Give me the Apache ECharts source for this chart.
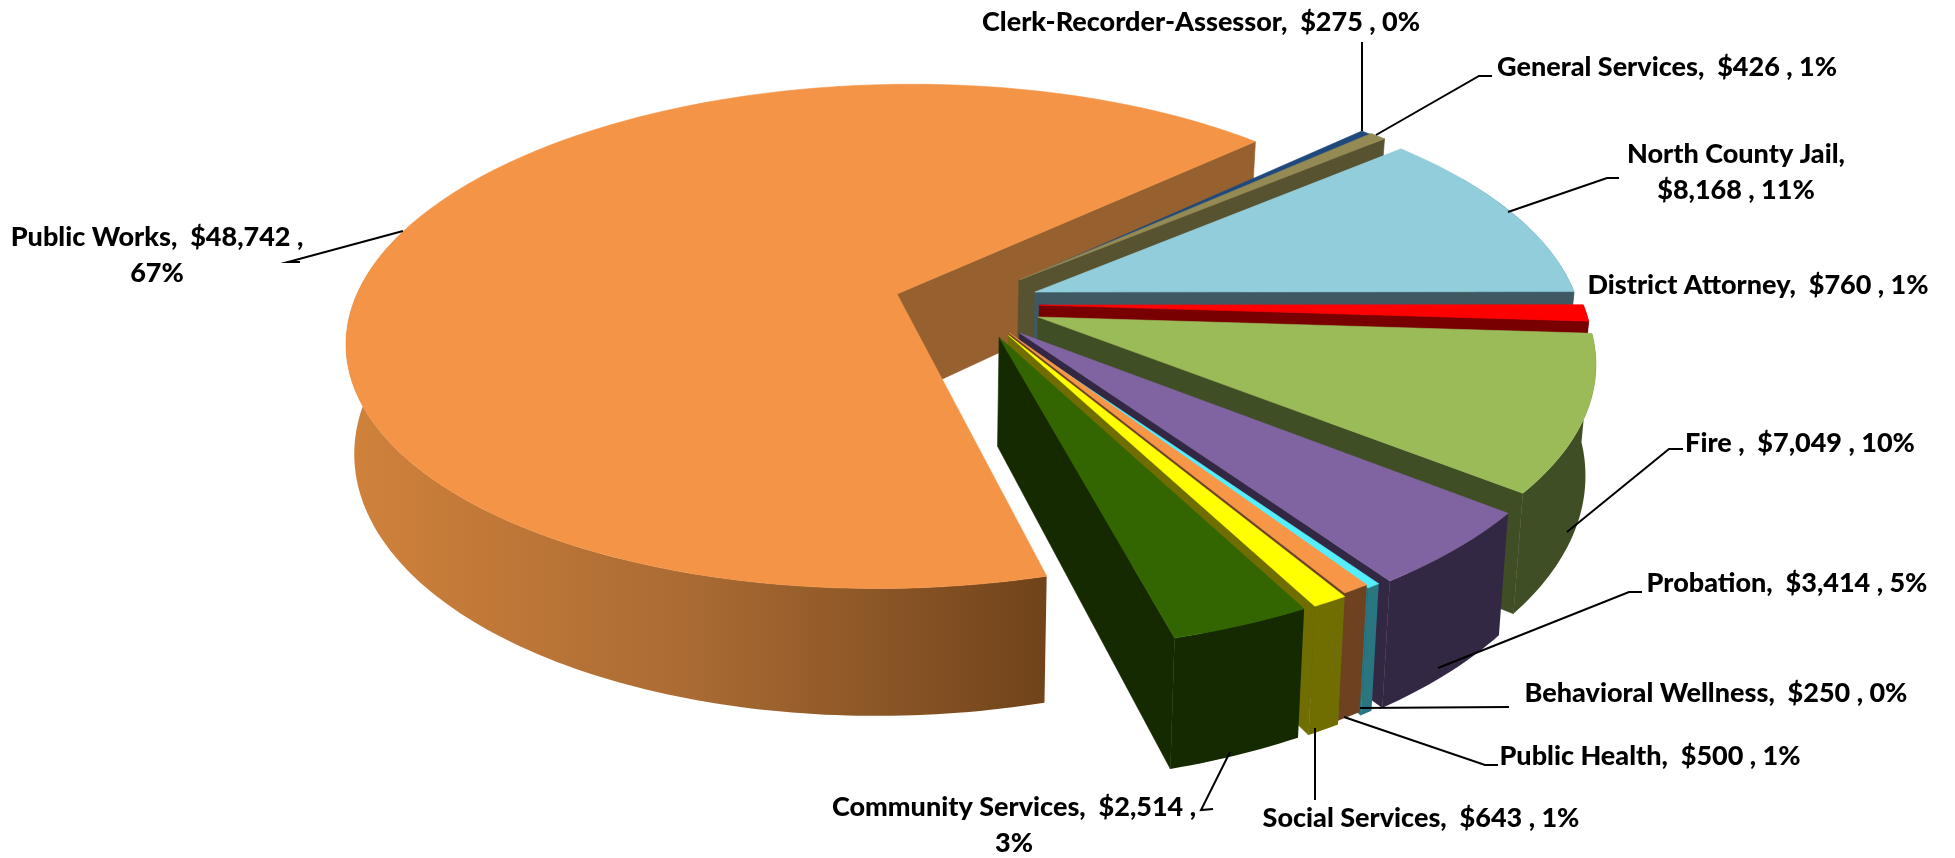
<!DOCTYPE html>
<html>
<head>
<meta charset="utf-8">
<title>Exploded 3D pie</title>
<script src="https://cdn.jsdelivr.net/npm/echarts@6/dist/echarts.min.js"></script>
<style>html,body{margin:0;padding:0;background:#fff}#chart{width:1955px;height:858px}</style>
</head>
<body>
<div id="chart"></div>
<script>
// ---- data ----
const categories = ['Public Works','Clerk-Recorder-Assessor','General Services','North County Jail','District Attorney','Fire','Probation','Behavioral Wellness','Public Health','Social Services','Community Services'];
const values = [48742,275,426,8168,760,7049,3414,250,500,643,2514];
const percents = ['67%','0%','1%','11%','1%','10%','5%','0%','1%','1%','3%'];
const dollars = ['$48,742','$275','$426','$8,168','$760','$7,049','$3,414','$250','$500','$643','$2,514'];

// ---- style ----
const topColors  = ['#F39446','#1F497D','#948A54','#92CDDC','#FF0000','#9BBB59','#8064A2','#55EEFF','#F79646','#FFFF00','#336600'];
const wallColors = ['#96602F','#57522F','#57522F','#3F5963','#780000','#3F4E24','#322843','#2A7680','#6E4220','#706E00','#152A00'];
const explodeX = [0,.226,.228,.2556,.263,.26,.226,.208,.207,.206,.189];
const explodeY = [0,-.054,-.059,-.008,.045,.0925,.155,.163,.154,.164,.171];

// ---- projection of the tilted disc ----
const VIEW = {cx:897, cy:294, A:540, B:245, k:.168, shear:17, H:106, shrink:.985, startAngle:-44};
const total = values.reduce((a,b)=>a+b,0);
// angles run clockwise from startAngle, Clerk first, Public Works last
const drawOrder = [1,2,3,4,5,6,7,8,9,10,0];
const angleFrom = {}, angleTo = {};
(function(){ let a = VIEW.startAngle;
  drawOrder.forEach(i=>{ angleFrom[i]=a; a+=values[i]/total*360; angleTo[i]=a; });
})();
function project(X,Y,drop){
  const s = 1/(1-VIEW.k*Y);
  let x = VIEW.cx + (VIEW.A*X - VIEW.shear*Y)*s;
  let y = VIEW.cy + VIEW.B*Y*s;
  if(drop){ x = VIEW.cx + (x-VIEW.cx)*VIEW.shrink; y += VIEW.H*s; }
  return [x,y];
}
function rim(i,deg,drop){
  const t = deg*Math.PI/180;
  return project(explodeX[i]+Math.cos(t), explodeY[i]+Math.sin(t), drop);
}
function arcPts(i,a,b,drop){
  const n = Math.max(2,Math.ceil(Math.abs(b-a)));
  const p = [];
  for(let j=0;j<=n;j++) p.push(rim(i,a+(b-a)*j/n,drop));
  return p;
}
function poly(points,fill,stroke){
  return {type:'polygon',silent:true,shape:{points},style:{fill,stroke:stroke||fill,lineWidth:.6}};
}
function renderSlice(params,api){
  const i = api.value(0);
  const a = angleFrom[i], b = angleTo[i];
  const apexTop = project(explodeX[i],explodeY[i],false);
  const apexBot = project(explodeX[i],explodeY[i],true);
  const children = [];
  // wall along the clockwise end of the slice
  children.push(poly([apexTop,rim(i,b,false),rim(i,b,true),apexBot],wallColors[i]));
  // outer wall, only the part turned to the viewer is needed
  const wa = i===0 ? a : Math.max(a,-30);
  const wb = i===0 ? Math.min(b,195) : b;
  if(wb>wa){
    const wall = arcPts(i,wa,wb,false).concat(arcPts(i,wb,wa,true));
    let fill = wallColors[i];
    if(i===0){
      fill = {type:'linear',x:349,y:0,x2:1048,y2:0,global:true,colorStops:[
        {offset:0,color:'#D0823B'},{offset:.5,color:'#A96A33'},{offset:1,color:'#70431A'}]};
    }
    children.push({type:'polygon',silent:true,shape:{points:wall},style:{fill}});
  }
  // top face
  children.push(poly([apexTop].concat(arcPts(i,a,b,false)),topColors[i]));
  return {type:'group',children};
}

// ---- labels and leader lines (in data order) ----
const labelLayout = [
  {x:157,y:237,leader:[[300,262],[288,262],[403,231]]},
  {x:1201,y:22,leader:[[1362,42],[1362,131]]},
  {x:1667,y:67,leader:[[1492,76],[1479,76],[1376,135]]},
  {x:1736,y:154,leader:[[1619,178],[1607,178],[1508,212]]},
  {x:1758,y:285},
  {x:1800,y:443,leader:[[1683,449],[1669,449],[1567,532]]},
  {x:1787,y:583,leader:[[1642,592],[1629,592],[1438,668]]},
  {x:1716,y:693,leader:[[1509,707],[1360,708]]},
  {x:1650,y:756,leader:[[1498,765],[1485,765],[1344,717]]},
  {x:1421,y:818,leader:[[1315,728],[1315,800]]},
  {x:1014,y:807,leader:[[1213,809],[1201,810],[1230,752]]}
];
const LINE_GAP = 36.5;
const FONT = '900 27px Lato, "Noto Sans", sans-serif';
function labelText(i){
  if(i===0)  return [categories[i]+',  '+dollars[i]+' ,', percents[i]];
  if(i===3)  return [categories[i]+',', dollars[i]+' , '+percents[i]];
  if(i===10) return [categories[i]+',  '+dollars[i]+' ,', percents[i]];
  const sep = i===5 ? ' ,  ' : ',  ';
  return [categories[i]+sep+dollars[i]+' , '+percents[i]];
}
function renderLabel(params,api){
  const i = api.value(0);
  const L = labelLayout[i];
  const children = [];
  labelText(i).forEach((t,j)=>{
    children.push({type:'text',silent:true,style:{text:t,x:L.x,y:L.y+j*LINE_GAP,font:FONT,fill:'#000',align:'center',verticalAlign:'middle',textAlign:'center',textVerticalAlign:'middle'}});
  });
  if(L.leader){
    children.push({type:'polyline',silent:true,shape:{points:L.leader},style:{fill:'none',stroke:'#000',lineWidth:2}});
  }
  return {type:'group',children};
}

const chart = echarts.init(document.getElementById('chart'),null,{renderer:'canvas'});
const rows = [0].concat(drawOrder.slice(0,-1)).map(i=>[i,values[i]]);
chart.setOption({
  backgroundColor:'#fff',
  animation:false,
  tooltip:{show:false},
  series:[
    {type:'custom',coordinateSystem:'none',renderItem:renderSlice,data:rows,z:2,silent:true},
    {type:'custom',coordinateSystem:'none',renderItem:renderLabel,data:rows,z:3,silent:true}
  ]
});
</script>
</body>
</html>
